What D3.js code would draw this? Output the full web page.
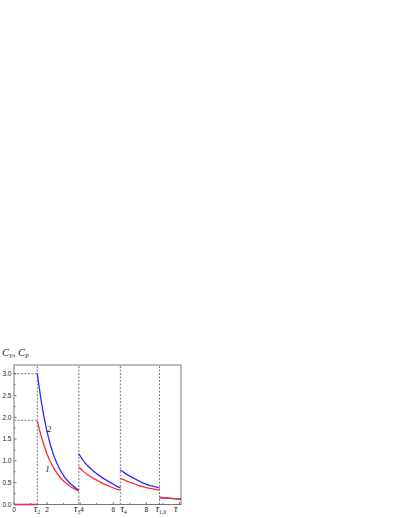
<!DOCTYPE html>
<html>
<head>
<meta charset="utf-8">
<script src="https://cdn.jsdelivr.net/npm/d3@7"></script>
<style>
  body { margin: 0; background: #fff; }
  svg { display: block; }
  .num { font-family: "Liberation Sans", Arial, sans-serif; font-size: 6.5px; fill: #222; }
  .it { font-family: "Liberation Serif", "Times New Roman", serif; font-style: italic; fill: #222; }
</style>
</head>
<body>
<script>
// breakpoints (tau_2, tau_3, tau_4, tau_10)
var tauBreaks = [1.41, 3.92, 6.44, 8.8];
var tauNames = ["2", "3", "4", "1,0"];
var xTicks = [0, 2, 4, 6, 8];
var yTicks = [0, 0.5, 1.0, 1.5, 2.0, 2.5, 3.0];
var levels = [3.0, 1.93];

// curve 1 (red) and curve 2 (blue), one array per segment
var seg0x = [0, 1.41];
var seg0red = [0, 0];
var seg0blue = [0, 0];

var seg1x    = [1.41, 1.55, 1.70, 1.85, 2.00, 2.20, 2.40, 2.60, 2.80, 3.00, 3.25, 3.50, 3.75, 3.92];
var seg1blue = [3.00, 2.62, 2.25, 1.94, 1.67, 1.37, 1.13, 0.94, 0.79, 0.66, 0.54, 0.45, 0.37, 0.33];
var seg1red  = [1.92, 1.70, 1.50, 1.32, 1.16, 0.98, 0.84, 0.72, 0.62, 0.54, 0.46, 0.39, 0.34, 0.31];

var seg2x    = [3.92, 4.2, 4.5, 4.8, 5.1, 5.4, 5.7, 6.0, 6.2, 6.44];
var seg2blue = [1.16, 1.00, 0.87, 0.77, 0.68, 0.60, 0.53, 0.47, 0.42, 0.38];
var seg2red  = [0.86, 0.76, 0.67, 0.60, 0.54, 0.48, 0.43, 0.38, 0.35, 0.33];

var seg3x    = [6.44, 6.7, 7.0, 7.3, 7.6, 7.9, 8.2, 8.5, 8.8];
var seg3blue = [0.79, 0.72, 0.65, 0.59, 0.53, 0.48, 0.44, 0.41, 0.38];
var seg3red  = [0.60, 0.56, 0.51, 0.47, 0.43, 0.40, 0.37, 0.35, 0.33];

var seg4x    = [8.8, 9.4, 10.1];
var seg4blue = [0.155, 0.14, 0.125];
var seg4red  = [0.17, 0.145, 0.125];

var width = 401, height = 518;

var x = d3.scaleLinear().domain([0, 10.1]).range([14, 181]);
var y = d3.scaleLinear().domain([0, 3.2]).range([504.5, 365]);

var svg = d3.select("body").append("svg")
    .attr("width", width)
    .attr("height", height);

// frame
svg.append("rect")
    .attr("x", x(0)).attr("y", y(3.2))
    .attr("width", x(10.1) - x(0)).attr("height", y(0) - y(3.2))
    .attr("fill", "none").attr("stroke", "#777").attr("stroke-width", 1);

// ticks
var yMinor = d3.range(0, 3.21, 0.25);
svg.selectAll(".yt").data(yMinor).enter().append("line")
    .attr("x1", x(0)).attr("x2", function(d) { return x(0) + (d % 0.5 === 0 ? 2.5 : 1.5); })
    .attr("y1", y).attr("y2", y)
    .attr("stroke", "#555").attr("stroke-width", 0.8);
svg.selectAll(".yl").data(yTicks).enter().append("text")
    .attr("class", "num")
    .attr("x", x(0) - 2.5).attr("y", function(d) { return y(d) + 2.3; })
    .attr("text-anchor", "end")
    .text(function(d) { return d.toFixed(1); });

var xMinor = d3.range(0, 10.1, 1);
svg.selectAll(".xt").data(xMinor).enter().append("line")
    .attr("x1", x).attr("x2", x)
    .attr("y1", y(0)).attr("y2", function(d) { return y(0) - (d % 2 === 0 ? 2.5 : 1.5); })
    .attr("stroke", "#555").attr("stroke-width", 0.8);
svg.selectAll(".xl").data(xTicks).enter().append("text")
    .attr("class", "num")
    .attr("x", function(d) { return x(d) + (d === 4 ? 2 : 0); }).attr("y", 511.5)
    .attr("text-anchor", "middle")
    .text(function(d) { return d; });

// dashed guides
svg.selectAll(".vg").data(tauBreaks).enter().append("line")
    .attr("x1", x).attr("x2", x)
    .attr("y1", y(0)).attr("y2", y(3.2))
    .attr("stroke", function(d, i) { return (i === 1 || i === 2) ? "#999" : "#444"; })
    .attr("stroke-width", function(d, i) { return (i === 1 || i === 2) ? 1.4 : 0.7; })
    .attr("stroke-dasharray", "2,1.5");
svg.selectAll(".hg").data(levels).enter().append("line")
    .attr("x1", x(0)).attr("x2", x(tauBreaks[0]))
    .attr("y1", y).attr("y2", y)
    .attr("stroke", function(d, i) { return i ? "#999" : "#444"; })
    .attr("stroke-width", function(d, i) { return i ? 1.2 : 0.7; })
    .attr("stroke-dasharray", "2,1.5");

// curves
var line = d3.line()
    .x(function(d) { return x(d[0]); })
    .y(function(d) { return y(d[1]); })
    .curve(d3.curveMonotoneX);

var segs = [
  [seg0x, seg0blue, seg0red],
  [seg1x, seg1blue, seg1red],
  [seg2x, seg2blue, seg2red],
  [seg3x, seg3blue, seg3red],
  [seg4x, seg4blue, seg4red]
];

segs.forEach(function(s) {
  svg.append("path")
      .attr("d", line(d3.zip(s[0], s[1])))
      .attr("fill", "none").attr("stroke", "#2b2bff").attr("stroke-width", 1.3);
});
segs.forEach(function(s) {
  svg.append("path")
      .attr("d", line(d3.zip(s[0], s[2])))
      .attr("fill", "none").attr("stroke", "#ff2b2b").attr("stroke-width", 1.3);
});

// tau labels on x axis
var tauShift = [-3.5, -5, 0, -4];
tauBreaks.forEach(function(t, i) {
  var tx = svg.append("text").attr("class", "it")
      .attr("x", x(t) + tauShift[i]).attr("y", 512)
      .style("font-size", "10px");
  tx.append("tspan").text("τ");
  tx.append("tspan").attr("dy", 2).style("font-size", "5.5px").style("font-style", "normal").text(tauNames[i]);
});
svg.append("text").attr("class", "it")
    .attr("x", 174).attr("y", 512)
    .style("font-size", "10px").text("τ");

// curve labels
svg.append("text").attr("class", "it")
    .attr("x", 49).attr("y", 432).attr("text-anchor", "middle")
    .style("font-size", "9px").text("2");
svg.append("text").attr("class", "it")
    .attr("x", 47.5).attr("y", 472).attr("text-anchor", "middle")
    .style("font-size", "9px").text("1");

// y title
var tt = svg.append("text").attr("class", "it")
    .attr("x", 2).attr("y", 356)
    .style("font-size", "10.5px");
tt.append("tspan").text("C");
tt.append("tspan").attr("dy", 2).style("font-size", "6px").text("V");
tt.append("tspan").attr("dy", -2).text(", C");
tt.append("tspan").attr("dy", 2).style("font-size", "6px").text("P");
</script>
</body>
</html>
